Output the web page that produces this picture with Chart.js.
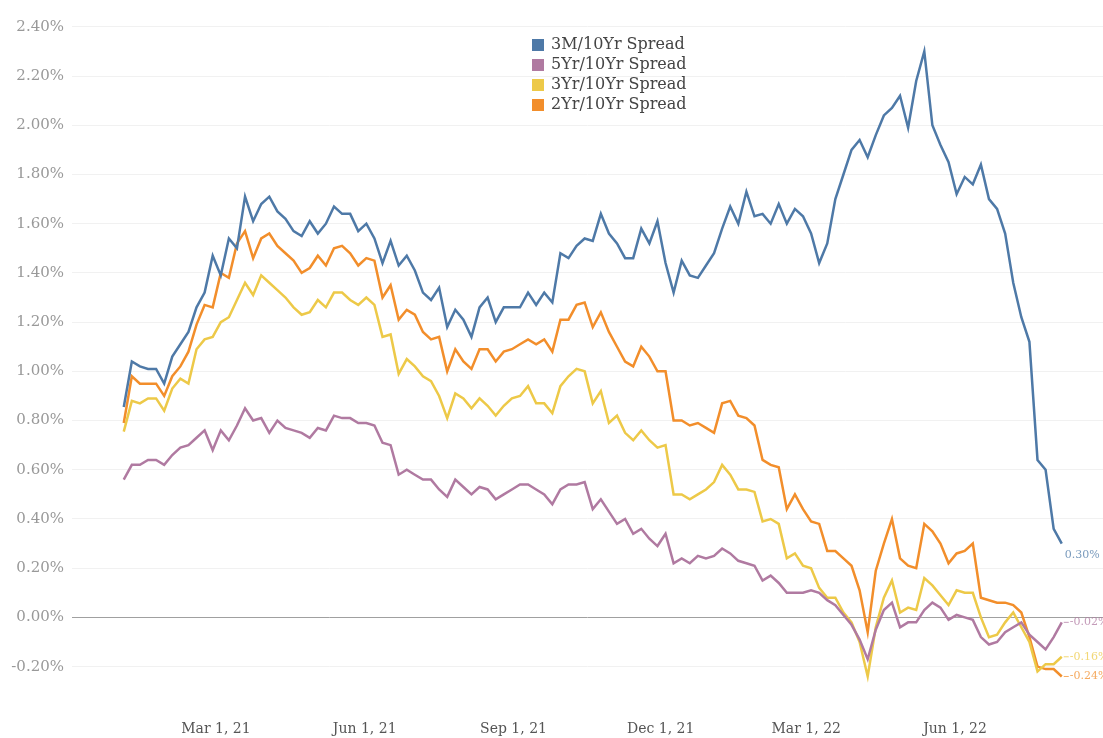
<!DOCTYPE html>
<html>
<head>
<meta charset="utf-8">
<script src="https://cdn.jsdelivr.net/npm/chart.js@4.4.0/dist/chart.umd.min.js"></script>
<style>
  html, body { margin: 0; padding: 0; background: #fff; }
  canvas { display: block; }
</style>
</head>
<body>
<canvas id="chart" width="1103" height="738"></canvas>
<script>
// sampled every 5 days, first sample on startDate
var startDate = '2021-01-03';
var stepDays = 5;

var seriesNames = ['3M/10Yr Spread', '5Yr/10Yr Spread', '3Yr/10Yr Spread', '2Yr/10Yr Spread'];
var seriesColors = ['#4e79a7', '#b07aa1', '#edc948', '#f28e2b'];

var spread3m = [0.855,1.04,1.02,1.01,1.01,0.95,1.06,1.11,1.16,1.26,
  1.32,1.47,1.39,1.54,1.50,1.71,1.61,1.68,1.71,1.65,
  1.62,1.57,1.55,1.61,1.56,1.60,1.67,1.64,1.64,1.57,
  1.60,1.54,1.44,1.53,1.43,1.47,1.41,1.32,1.29,1.34,
  1.18,1.25,1.21,1.14,1.26,1.30,1.20,1.26,1.26,1.26,
  1.32,1.27,1.32,1.28,1.48,1.46,1.51,1.54,1.53,1.64,
  1.56,1.52,1.46,1.46,1.58,1.52,1.61,1.44,1.32,1.45,
  1.39,1.38,1.43,1.48,1.58,1.67,1.60,1.73,1.63,1.64,
  1.60,1.68,1.60,1.66,1.63,1.56,1.44,1.52,1.70,1.80,
  1.90,1.94,1.87,1.96,2.04,2.07,2.12,1.99,2.18,2.30,
  2.00,1.92,1.85,1.72,1.79,1.76,1.84,1.70,1.66,1.56,
  1.36,1.22,1.12,0.64,0.60,0.36,0.30];

var spread5y = [0.56,0.62,0.62,0.64,0.64,0.62,0.66,0.69,0.70,0.73,
  0.76,0.68,0.76,0.72,0.78,0.85,0.80,0.81,0.75,0.80,
  0.77,0.76,0.75,0.73,0.77,0.76,0.82,0.81,0.81,0.79,
  0.79,0.78,0.71,0.70,0.58,0.60,0.58,0.56,0.56,0.52,
  0.49,0.56,0.53,0.50,0.53,0.52,0.48,0.50,0.52,0.54,
  0.54,0.52,0.50,0.46,0.52,0.54,0.54,0.55,0.44,0.48,
  0.43,0.38,0.40,0.34,0.36,0.32,0.29,0.34,0.22,0.24,
  0.22,0.25,0.24,0.25,0.28,0.26,0.23,0.22,0.21,0.15,
  0.17,0.14,0.10,0.10,0.10,0.11,0.10,0.07,0.05,0.01,
  -0.03,-0.09,-0.17,-0.05,0.03,0.06,-0.04,-0.02,-0.02,0.03,
  0.06,0.04,-0.01,0.01,0.00,-0.01,-0.08,-0.11,-0.10,-0.06,
  -0.04,-0.02,-0.07,-0.10,-0.13,-0.08,-0.02];

var spread3y = [0.755,0.88,0.87,0.89,0.89,0.84,0.93,0.97,0.95,1.09,
  1.13,1.14,1.20,1.22,1.29,1.36,1.31,1.39,1.36,1.33,
  1.30,1.26,1.23,1.24,1.29,1.26,1.32,1.32,1.29,1.27,
  1.30,1.27,1.14,1.15,0.99,1.05,1.02,0.98,0.96,0.90,
  0.81,0.91,0.89,0.85,0.89,0.86,0.82,0.86,0.89,0.90,
  0.94,0.87,0.87,0.83,0.94,0.98,1.01,1.00,0.87,0.92,
  0.79,0.82,0.75,0.72,0.76,0.72,0.69,0.70,0.50,0.50,
  0.48,0.50,0.52,0.55,0.62,0.58,0.52,0.52,0.51,0.39,
  0.40,0.38,0.24,0.26,0.21,0.20,0.12,0.08,0.08,0.02,
  -0.02,-0.10,-0.24,-0.04,0.08,0.15,0.02,0.04,0.03,0.16,
  0.13,0.09,0.05,0.11,0.10,0.10,0.00,-0.08,-0.07,-0.02,
  0.02,-0.04,-0.10,-0.22,-0.19,-0.19,-0.16];

var spread2y = [0.79,0.98,0.95,0.95,0.95,0.90,0.98,1.02,1.08,1.19,
  1.27,1.26,1.40,1.38,1.52,1.57,1.46,1.54,1.56,1.51,
  1.48,1.45,1.40,1.42,1.47,1.43,1.50,1.51,1.48,1.43,
  1.46,1.45,1.30,1.35,1.21,1.25,1.23,1.16,1.13,1.14,
  1.00,1.09,1.04,1.01,1.09,1.09,1.04,1.08,1.09,1.11,
  1.13,1.11,1.13,1.08,1.21,1.21,1.27,1.28,1.18,1.24,
  1.16,1.10,1.04,1.02,1.10,1.06,1.00,1.00,0.80,0.80,
  0.78,0.79,0.77,0.75,0.87,0.88,0.82,0.81,0.78,0.64,
  0.62,0.61,0.44,0.50,0.44,0.39,0.38,0.27,0.27,0.24,
  0.21,0.11,-0.06,0.19,0.30,0.40,0.24,0.21,0.20,0.38,
  0.35,0.30,0.22,0.26,0.27,0.30,0.08,0.07,0.06,0.06,
  0.05,0.02,-0.08,-0.20,-0.21,-0.21,-0.24];

var yTicks = [-0.2, 0, 0.2, 0.4, 0.6, 0.8, 1.0, 1.2, 1.4, 1.6, 1.8, 2.0, 2.2, 2.4];
var xTickDates = ['2021-03-01', '2021-06-01', '2021-09-01', '2021-12-01', '2022-03-01', '2022-06-01'];
var xTickLabels = ['Mar 1, 21', 'Jun 1, 21', 'Sep 1, 21', 'Dec 1, 21', 'Mar 1, 22', 'Jun 1, 22'];

// days since Jan 1 2021 (no date adapter available, so x is a plain number)
function dayNum(iso) {
  var p = iso.split('-');
  return (Date.UTC(+p[0], p[1] - 1, +p[2]) - Date.UTC(2021, 0, 1)) / 86400000;
}

function toPoints(values) {
  var d0 = dayNum(startDate);
  return values.map(function(v, i) { return { x: d0 + i * stepDays, y: v }; });
}

var allSeries = [spread3m, spread5y, spread3y, spread2y];

var boxLegend = {
  id: 'boxLegend',
  afterDraw: function(chart) {
    var ctx = chart.ctx;
    ctx.save();
    ctx.font = '16px "DejaVu Serif"';
    ctx.textBaseline = 'middle';
    ctx.textAlign = 'left';
    chart.data.datasets.forEach(function(ds, k) {
      var y = 45 + k * 20;
      ctx.fillStyle = ds.borderColor;
      ctx.fillRect(532, y - 6, 12, 12);
      ctx.fillStyle = '#444';
      ctx.fillText(ds.label, 551, y);
    });
    ctx.restore();
  }
};

var endLabels = {
  id: 'endLabels',
  afterDatasetsDraw: function(chart) {
    var ctx = chart.ctx;
    ctx.save();
    ctx.font = '11px "DejaVu Serif"';
    ctx.textBaseline = 'middle';
    ctx.textAlign = 'left';
    chart.data.datasets.forEach(function(ds, k) {
      var meta = chart.getDatasetMeta(k);
      var pt = meta.data[meta.data.length - 1];
      var v = ds.data[ds.data.length - 1].y;
      var txt = v.toFixed(2) + '%';
      ctx.globalAlpha = 0.75;
      ctx.fillStyle = ds.borderColor;
      ctx.strokeStyle = ds.borderColor;
      if (k === 0) {
        ctx.fillText(txt, pt.x + 3, pt.y + 12);
      } else {
        ctx.lineWidth = 1;
        ctx.beginPath();
        ctx.moveTo(pt.x + 2, pt.y);
        ctx.lineTo(pt.x + 7, pt.y);
        ctx.stroke();
        ctx.fillText(txt, pt.x + 8, pt.y);
      }
    });
    ctx.restore();
  }
};

new Chart(document.getElementById('chart'), {
  type: 'line',
  data: {
    datasets: allSeries.map(function(vals, k) {
      return {
        label: seriesNames[k],
        data: toPoints(vals),
        borderColor: seriesColors[k],
        backgroundColor: seriesColors[k],
        borderWidth: 2.5,
        pointRadius: 0,
        tension: 0,
        fill: false
      };
    })
  },
  options: {
    responsive: false,
    animation: false,
    layout: { padding: { top: 5, right: 0, bottom: 0, left: 0 } },
    plugins: { legend: { display: false }, tooltip: { enabled: false } },
    scales: {
      x: {
        type: 'linear',
        min: -30,
        max: 607.5,
        grid: { display: false },
        border: { display: false },
        afterBuildTicks: function(s) {
          s.ticks = xTickDates.map(function(d) { return { value: dayNum(d) }; });
        },
        afterFit: function(s) { s.height = 32; },
        ticks: {
          autoSkip: false,
          maxRotation: 0,
          padding: 7,
          color: '#555',
          font: { family: '"DejaVu Serif"', size: 14 },
          callback: function(v, i) { return xTickLabels[i]; }
        }
      },
      y: {
        min: -0.36,
        max: 2.44,
        afterBuildTicks: function(s) {
          s.ticks = yTicks.map(function(v) { return { value: v }; });
        },
        afterFit: function(s) { s.width = 72; },
        grid: {
          drawTicks: false,
          color: function(c) { return c.tick && c.tick.value === 0 ? '#a0a0a0' : '#f1f1f1'; },
          lineWidth: 1
        },
        border: { display: false },
        ticks: {
          padding: 8,
          color: '#999',
          font: { family: '"DejaVu Serif"', size: 15 },
          callback: function(v) { return v.toFixed(2) + '%'; }
        }
      }
    }
  },
  plugins: [boxLegend, endLabels]
});
</script>
</body>
</html>
